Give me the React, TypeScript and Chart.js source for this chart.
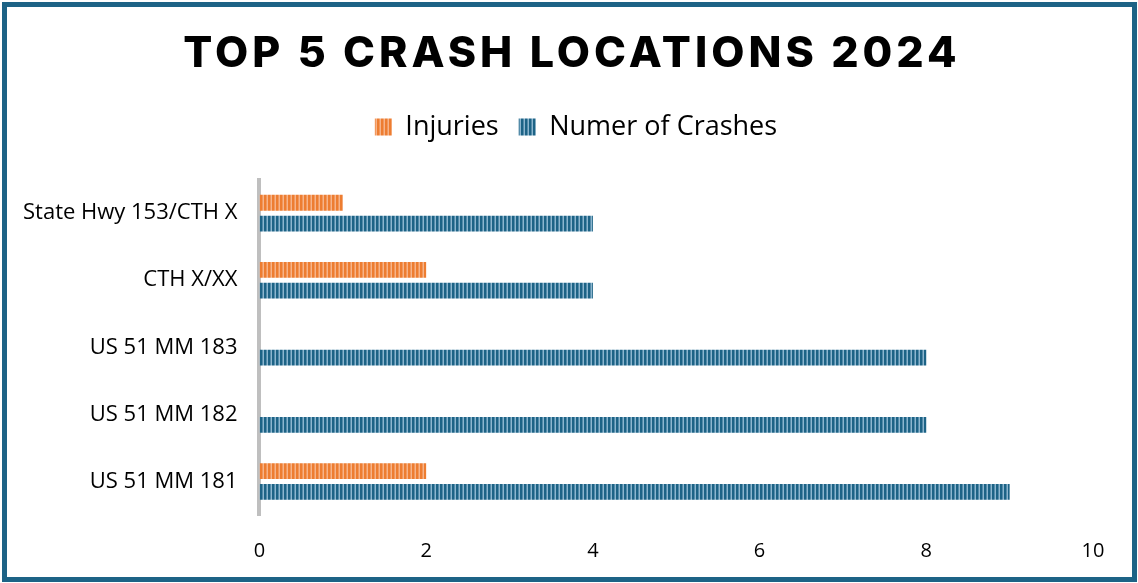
import React, { useEffect, useRef } from "react";
import { Chart, registerables } from "chart.js";

Chart.register(...registerables);

const categories = ["State Hwy 153/CTH X", "CTH X/XX", "US 51 MM 183", "US 51 MM 182", "US 51 MM 181"];
const injuries = [1, 2, 0, 0, 2];
const crashes = [4, 4, 8, 8, 9];
const xTicks = [0, 2, 4, 6, 8, 10];

function stripe(dark: string, light: string): CanvasPattern | string {
  const c = document.createElement("canvas");
  c.width = 4;
  c.height = 4;
  const g = c.getContext("2d");
  if (!g) return dark;
  g.fillStyle = light;
  g.fillRect(0, 0, 4, 4);
  g.fillStyle = dark;
  g.fillRect(0, 0, 2.5, 4);
  const p = g.createPattern(c, "repeat");
  return p || dark;
}

export default function App() {
  const ref = useRef<HTMLCanvasElement | null>(null);
  useEffect(() => {
    document.body.style.margin = "0";
    const ctx = ref.current!.getContext("2d")!;
    const orange = stripe("#ED7D31", "#F6B48A");
    const blue = stripe("#1D6386", "#8DB6CF");
    const patches = {
      id: "patches",
      beforeLayout(chart: any) {
        const lg = chart.legend;
        if (lg && !lg._patched) {
          const origFit = lg.fit;
          lg.fit = function () {
            origFit.call(this);
            this.height += 29;
          };
          const origDraw = lg.draw;
          lg.draw = function () {
            const c = chart.ctx;
            c.save();
            c.translate(29, 0);
            origDraw.call(this);
            c.restore();
          };
          lg._patched = true;
        }
      },
      beforeDraw(chart: any) {
        const tb = chart.titleBlock;
        if (tb && !tb._patched) {
          const orig = tb.draw;
          tb.draw = function () {
            const c = chart.ctx;
            c.save();
            (c as any).letterSpacing = "4px";
            c.translate(25, 0);
            orig.call(this);
            c.restore();
          };
          tb._patched = true;
        }
      },
    };
    const chart = new Chart(ctx, {
      type: "bar",
      data: {
        labels: categories,
        datasets: [
          { label: "Injuries", data: injuries, backgroundColor: orange as any, borderWidth: 0, barPercentage: 0.76, categoryPercentage: 0.62 },
          { label: "Numer of Crashes", data: crashes, backgroundColor: blue as any, borderWidth: 0, barPercentage: 0.76, categoryPercentage: 0.62 },
        ],
      },
      options: {
        indexAxis: "y",
        animation: false,
        responsive: false,
        maintainAspectRatio: false,
        layout: { padding: { left: 1, right: 45, top: 28, bottom: -4 } },
        plugins: {
          title: {
            display: true,
            text: "TOP 5 CRASH LOCATIONS 2024",
            color: "#000000",
            font: { family: "Inter", size: 43, weight: "800" as any },
            padding: { top: 0, bottom: 14 },
          },
          legend: {
            display: true,
            position: "top",
            labels: {
              color: "#000000",
              font: { family: "Open Sans", size: 27 },
              boxWidth: 17,
              boxHeight: 17,
              padding: 20,
            },
          },
          tooltip: { enabled: false },
        },
        scales: {
          x: {
            min: 0,
            max: 10,
            afterBuildTicks(axis: any) {
              axis.ticks = xTicks.map((v) => ({ value: v }));
            },
            grid: { display: false, drawTicks: false },
            border: { display: false },
            ticks: { color: "#000000", font: { family: "Open Sans", size: 20 }, padding: 24 },
          },
          y: {
            grid: { display: false, drawTicks: false },
            border: { display: true, color: "#BFBFBF", width: 4 },
            ticks: { color: "#000000", font: { family: "Open Sans", size: 22 }, padding: 22 },
          },
        },
      },
      plugins: [patches],
    });
    return () => chart.destroy();
  }, []);
  return (
    <div style={{ position: "fixed", left: 0, top: 0, width: 1138, height: 583, background: "#fff" }}>
      <canvas ref={ref} width={1138} height={583} style={{ position: "absolute", left: 0, top: 0 }} />
      <div
        style={{
          position: "absolute",
          left: 2,
          top: 2,
          width: 1135,
          height: 580,
          border: "5px solid #1D6386",
          boxSizing: "border-box",
          pointerEvents: "none",
        }}
      />
    </div>
  );
}
